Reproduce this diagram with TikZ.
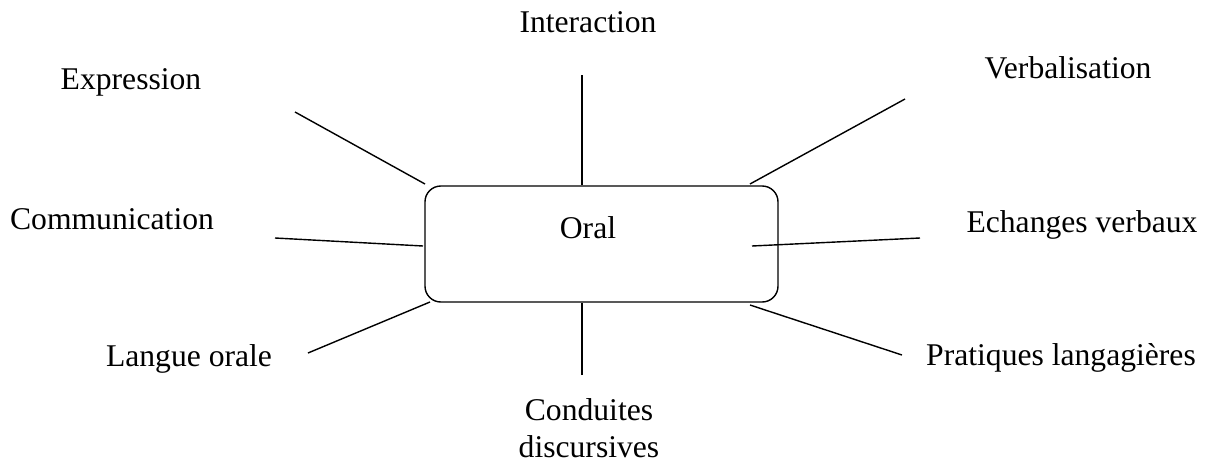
\documentclass[tikz,border=0pt]{standalone}
\usepackage{fontspec}
\setmainfont{Liberation Serif}
\begin{document}
\begin{tikzpicture}[x=0.02cm,y=-0.02cm,
  lbl/.style={font=\fontsize{18}{21}\selectfont, inner sep=0pt, align=center},
  conn/.style={line width=0.8pt, black},
  box/.style={draw, line width=0.8pt, rounded corners=9pt}]
\useasboundingbox (0,0) rectangle (1205,467);
\draw[box] (425,186) rectangle (778,302);
\node[lbl] (oral) at (588,228) {Oral};
\node[lbl] (inter) at (588,22) {Interaction};
\node[lbl] (expr) at (131,82) {Expression};
\node[lbl] (verb) at (1068,68) {Verbalisation};
\node[lbl] (comm) at (112,219) {Communication};
\node[lbl] (ech) at (1082,225) {Echanges verbaux};
\node[lbl] (lang) at (189,359) {Langue orale};
\node[lbl] (cond) at (589,428) {Conduites\\discursives};
\node[lbl] (prat) at (1061,358) {Pratiques langagières};
\coordinate (a1) at (582,75); \coordinate (b1) at (582,185);
\coordinate (a2) at (295,112); \coordinate (b2) at (425,184);
\coordinate (a3) at (905,99); \coordinate (b3) at (750,184);
\coordinate (a4) at (275,238); \coordinate (b4) at (423,246);
\coordinate (a5) at (920,238); \coordinate (b5) at (752,246);
\coordinate (a6) at (308,353); \coordinate (b6) at (430,302);
\coordinate (a7) at (582,375); \coordinate (b7) at (582,303);
\coordinate (a8) at (902,355); \coordinate (b8) at (750,305);
\foreach \i in {1,...,8} \draw[conn] (a\i) -- (b\i);
\end{tikzpicture}
\end{document}
